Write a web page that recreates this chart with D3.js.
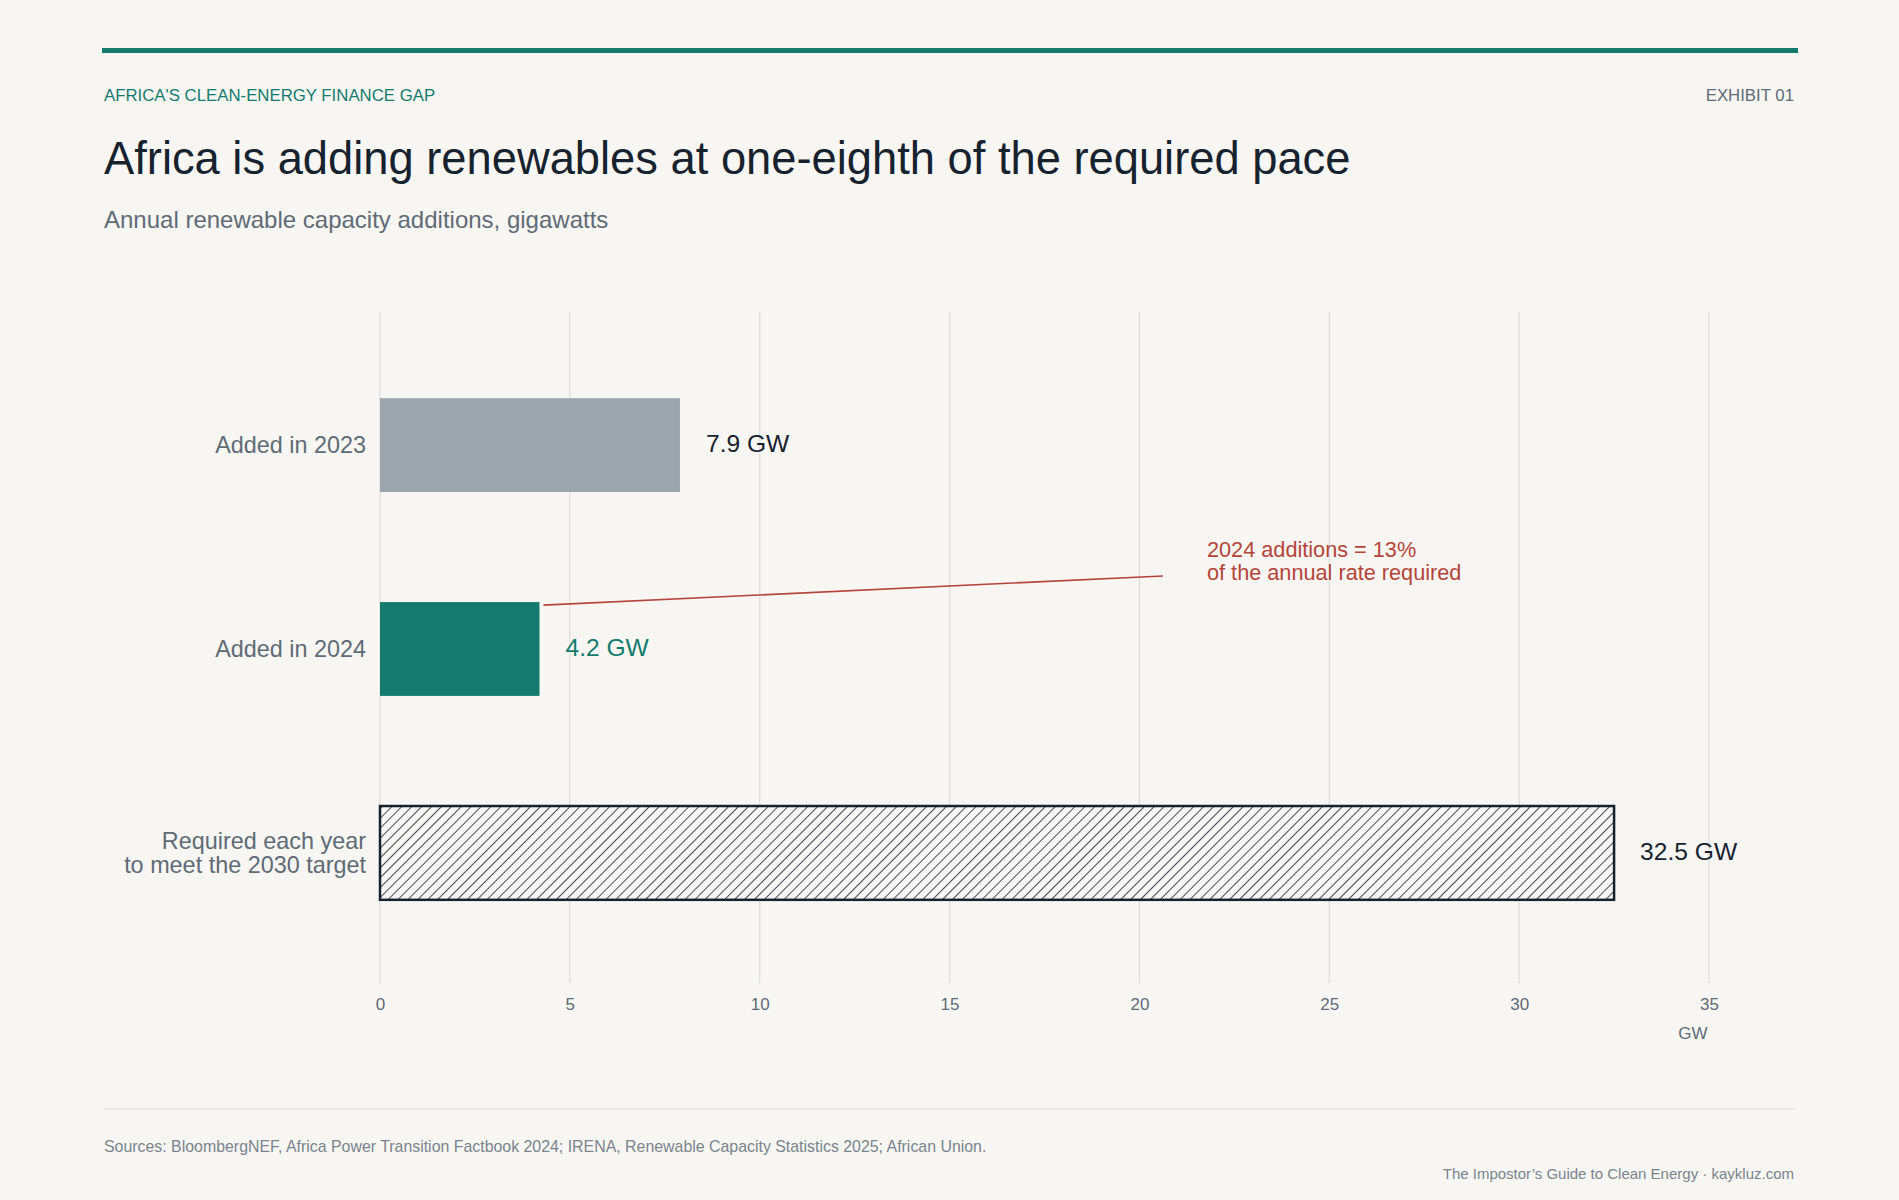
<!DOCTYPE html>
<html>
<head>
<meta charset="utf-8">
<script src="https://cdn.jsdelivr.net/npm/d3@7"></script>
<style>
  body { margin: 0; background: #f7f6f3; }
  svg { font-family: "Liberation Sans", Arial, sans-serif; display: block; }
</style>
</head>
<body>
<svg id="chart" width="1899" height="1200"></svg>
<script>
var categories = ['Added in 2023', 'Added in 2024', 'Required each year|to meet the 2030 target'];
var values = [7.9, 4.2, 32.5];
var valueLabels = ['7.9 GW', '4.2 GW', '32.5 GW'];
var ticks = [0, 5, 10, 15, 20, 25, 30, 35];

var svg = d3.select('#chart');
var ink = '#17222f', grey = '#5f6b76', teal = '#157a6e', red = '#b5453a';

svg.append('rect').attr('width', 1899).attr('height', 1200).attr('fill', '#f7f6f3');

// header
svg.append('rect').attr('x', 102).attr('y', 48).attr('width', 1696).attr('height', 5).attr('fill', teal);
svg.append('text').attr('x', 104).attr('y', 101).attr('font-size', 16.8).attr('fill', teal)
  .text("AFRICA'S CLEAN-ENERGY FINANCE GAP");
svg.append('text').attr('x', 1794).attr('y', 101).attr('font-size', 16.8).attr('fill', grey)
  .attr('text-anchor', 'end').text('EXHIBIT 01');
svg.append('text').attr('x', 104).attr('y', 174).attr('font-size', 45.3).attr('fill', ink)
  .text('Africa is adding renewables at one-eighth of the required pace');
svg.append('text').attr('x', 104).attr('y', 228).attr('font-size', 24).attr('fill', grey)
  .text('Annual renewable capacity additions, gigawatts');

// hatch pattern
var defs = svg.append('defs');
var pat = defs.append('pattern').attr('id', 'hatch').attr('patternUnits', 'userSpaceOnUse')
  .attr('width', 7).attr('height', 7).attr('patternTransform', 'rotate(45)');
pat.append('rect').attr('width', 7).attr('height', 7).attr('fill', '#f7f6f3');
pat.append('line').attr('x1', 0).attr('y1', 0).attr('x2', 0).attr('y2', 7)
  .attr('stroke', ink).attr('stroke-width', 1.6);

var x = d3.scaleLinear().domain([0, 35]).range([380, 1709]);
var y = d3.scaleBand().domain(categories).range([337, 961]).paddingInner(0.54).paddingOuter(0.3);

// gridlines
svg.append('g').selectAll('line').data(ticks).enter().append('line')
  .attr('x1', function(d) { return x(d); }).attr('x2', function(d) { return x(d); })
  .attr('y1', 312).attr('y2', 983).attr('stroke', '#dcdcdc').attr('stroke-width', 1.2);

// axis
var axis = svg.append('g').attr('transform', 'translate(0,990)')
  .call(d3.axisBottom(x).tickValues(ticks).tickSize(0).tickPadding(8));
axis.select('.domain').remove();
axis.selectAll('text').attr('font-size', 17).attr('fill', grey)
  .style('font-family', '"Liberation Sans", Arial, sans-serif');
svg.append('text').attr('x', 1693).attr('y', 1039).attr('font-size', 17).attr('fill', grey)
  .attr('text-anchor', 'middle').text('GW');

var fills = ['#9aa5ae', teal, 'url(#hatch)'];
svg.append('g').selectAll('rect').data(values).enter().append('rect')
  .attr('x', x(0))
  .attr('y', function(d, i) { return y(categories[i]); })
  .attr('width', function(d) { return x(d) - x(0); })
  .attr('height', y.bandwidth())
  .attr('fill', function(d, i) { return fills[i]; })
  .attr('stroke', function(d, i) { return i === 2 ? ink : 'none'; })
  .attr('stroke-width', 2.5);

// value labels
svg.append('g').selectAll('text').data(values).enter().append('text')
  .attr('x', function(d) { return x(d) + 26; })
  .attr('y', function(d, i) { return y(categories[i]) + y.bandwidth() / 2 - 2; })
  .attr('dy', '0.35em').attr('font-size', 24.6)
  .attr('fill', function(d, i) { return i === 1 ? teal : ink; })
  .text(function(d, i) { return valueLabels[i]; });

// category labels
svg.append('g').selectAll('text').data(categories).enter().append('text')
  .attr('x', 366).attr('text-anchor', 'end').attr('font-size', 23.4).attr('fill', grey)
  .attr('y', function(d) {
    var n = d.split('|').length;
    return y(d) + y.bandwidth() / 2 - (n - 1) * 12;
  })
  .each(function(d) {
    var t = d3.select(this);
    d.split('|').forEach(function(s, i) {
      t.append('tspan').attr('x', 366).attr('dy', i === 0 ? '0.35em' : '1.0em').text(s);
    });
  });

// annotation
var yb = y(categories[1]);
svg.append('line').attr('x1', x(values[1]) + 4).attr('y1', yb + 3)
  .attr('x2', 1163).attr('y2', 576).attr('stroke', red).attr('stroke-width', 1.6);
svg.append('text').attr('x', 1207).attr('y', 557).attr('font-size', 21.7).attr('fill', red)
  .text('2024 additions = 13%');
svg.append('text').attr('x', 1207).attr('y', 580).attr('font-size', 21.7).attr('fill', red)
  .text('of the annual rate required');

// footer
svg.append('line').attr('x1', 104).attr('x2', 1795).attr('y1', 1109).attr('y2', 1109)
  .attr('stroke', '#dcdcdc').attr('stroke-width', 1.2);
svg.append('text').attr('x', 104).attr('y', 1152).attr('font-size', 15.9).attr('fill', '#7a848d')
  .text('Sources: BloombergNEF, Africa Power Transition Factbook 2024; IRENA, Renewable Capacity Statistics 2025; African Union.');
svg.append('text').attr('x', 1794).attr('y', 1179).attr('font-size', 15).attr('fill', '#7a848d')
  .attr('text-anchor', 'end').text('The Impostor\u2019s Guide to Clean Energy  \u00b7  kaykluz.com');
</script>
</body>
</html>
